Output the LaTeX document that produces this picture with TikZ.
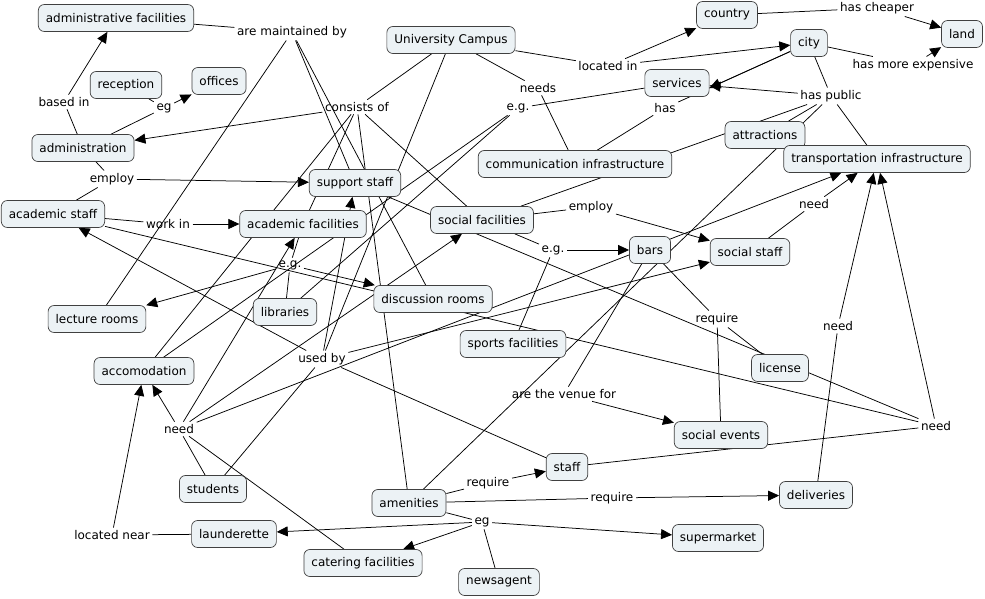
\documentclass[tikz,border=0pt]{standalone}
\usepackage{fontspec}
\setmainfont{DejaVu Sans}
\usetikzlibrary{arrows.meta,backgrounds,calc}
\definecolor{conceptfill}{RGB}{236,242,245}
\begin{document}
\begin{tikzpicture}[x=1pt,y=-1pt,>={Triangle[length=11pt,width=10pt]},
    every node/.style={font=\fontsize{12}{14}\selectfont}]
  \useasboundingbox (0,0) rectangle (985,599);

      % concepts
      \begin{scope}[every node/.style={draw=black!75,line width=.7pt,rounded corners=6pt,
          fill=conceptfill,inner xsep=7.5pt,inner ysep=0pt,minimum height=27pt,
          font=\fontsize{12}{14}\selectfont}]
        \node (adminfac)       at (116,18)  {administrative facilities};
        \node (reception)      at (126,85)  {reception};
        \node (offices)        at (219,81)  {offices};
        \node (administration) at (83,148)  {administration};
        \node (acadstaff)      at (53,214)  {academic staff};
        \node (campus)         at (451,40)  {University Campus};
        \node (supstaff)       at (355,183) {support staff};
        \node (acadfac)        at (303,224) {academic facilities};
        \node (socfac)         at (482,220) {social facilities};
        \node (discrooms)      at (433,299) {discussion rooms};
        \node (libraries)      at (285,312) {libraries};
        \node (lecture)        at (97,319)  {lecture rooms};
        \node (accom)          at (144,371) {accomodation};
        \node (students)       at (213,489) {students};
        \node (amenities)      at (409,503) {amenities};
        \node (launderette)    at (234,534) {launderette};
        \node (catering)       at (363,563) {catering facilities};
        \node (newsagent)      at (499,582) {newsagent};
        \node (supermarket)    at (718,538) {supermarket};
        \node (deliveries)     at (816,495) {deliveries};
        \node (staff)          at (567,467) {staff};
        \node (socevents)      at (721,435) {social events};
        \node (license)        at (780,368) {license};
        \node (sports)         at (513,344) {sports facilities};
        \node (bars)           at (650,250) {bars};
        \node (socstaff)       at (750,252) {social staff};
        \node (comminfra)      at (575,164) {communication infrastructure};
        \node (attractions)    at (765,135) {attractions};
        \node (transinfra)     at (877,159) {transportation infrastructure};
        \node (services)       at (677,83)  {services};
        \node (country)        at (727,15)  {country};
        \node (city)           at (809,43)  {city};
        \node (land)           at (962,34)  {land};
      \end{scope}

      % linking phrases
      \begin{scope}[every node/.style={inner sep=2.5pt,font=\fontsize{12}{14}\selectfont}]
        \node (maintained) at (292,32)  {are maintained by};
        \node (basedin)    at (64,102)  {based in};
        \node (eg1)        at (164,108) {eg};
        \node (consists)   at (357,107) {consists of};
        \node (employa)    at (112,179) {employ};
        \node (workin)     at (168,224) {work in};
        \node (eg2)        at (290,265) {e.g.};
        \node (usedby)     at (322,359) {used by};
        \node (needa)      at (179,429) {need};
        \node (locnear)    at (112,535) {located near};
        \node (locin)      at (608,66)  {located in};
        \node (needs)      at (538,88)  {needs};
        \node (eg3)        at (518,108) {e.g.};
        \node (has)        at (665,108) {has};
        \node (haspub)     at (831,96)  {has public};
        \node (cheaper)    at (877,8)   {has cheaper};
        \node (expensive)  at (913,65)  {has more expensive};
        \node (employb)    at (591,207) {employ};
        \node (eg4)        at (553,250) {e.g.};
        \node (needb)      at (814,204) {need};
        \node (needc)      at (838,326) {need};
        \node (requirea)   at (717,319) {require};
        \node (venue)      at (564,394) {are the venue for};
        \node (needd)      at (936,426) {need};
        \node (requireb)   at (488,483) {require};
        \node (requirec)   at (612,498) {require};
        \node (eg5)        at (482,522) {eg};
      \end{scope}

      % connectors, behind the boxes
      \begin{scope}[on background layer,every edge/.style={draw=black,line width=.75pt}]
        \path (adminfac)       edge (maintained);
        \path (lecture)        edge (maintained);
        \path (discrooms)      edge (maintained);
        \path (maintained)     edge (supstaff);
        \path (administration) edge (basedin);
        \path (basedin)        edge[->] (adminfac);
        \path (reception)      edge (eg1);
        \path (administration) edge (eg1);
        \path (eg1)            edge[->] (offices);
        \path (campus)         edge (consists);
        \path (consists)       edge[->] (administration);
        \path (consists)       edge (acadfac);
        \path (consists)       edge (accom);
        \path (consists)       edge (amenities);
        \path (consists)       edge (socfac);
        \path (administration) edge (employa);
        \path (employa)        edge[->] (supstaff);
        \path (employa)        edge (acadstaff);
        \path (acadstaff)      edge (workin);
        \path (workin)         edge[->] (acadfac);
        \path (acadfac)        edge (eg2);
        \path (eg2)            edge[->] (lecture);
        \path (eg2)            edge (libraries);
        \path (eg2)            edge[->] (discrooms);
        \path (campus)         edge (usedby);
        \path (usedby)         edge[->] (acadstaff);
        \path (usedby)         edge[->] (supstaff);
        \path (usedby)         edge[->] (socstaff);
        \path (usedby)         edge (students);
        \path (usedby)         edge (staff);
        \path (students)       edge (needa);
        \path (needa)          edge[->] (accom);
        \path (needa)          edge[->] (acadfac);
        \path (needa)          edge[->] (socfac);
        \path (needa)          edge[->] (transinfra);
        \path (needa)          edge (catering);
        \path (launderette)    edge (locnear);
        \path (locnear)        edge[->] (accom);
        \path (campus)         edge (locin);
        \path (locin)          edge[->] (country);
        \path (locin)          edge[->] (city);
        \path (campus)         edge (needs);
        \path (needs)          edge (comminfra);
        \path (services)       edge (eg3);
        \path (eg3)            edge (accom);
        \path (eg3)            edge (libraries);
        \path (has)            edge (city);
        \path (city)           edge[->] ($(services.east)+(0,5)$);
        \path (has)            edge (comminfra);
        \path (country)        edge (cheaper);
        \path (cheaper)        edge[->] (land);
        \path (city)           edge (expensive);
        \path (expensive)      edge[->] (land);
        \path (city)           edge (haspub);
        \path (haspub)         edge[->] (services);
        \path (haspub)         edge (attractions);
        \path (haspub)         edge (transinfra);
        \path (haspub)         edge (socfac);
        \path (haspub)         edge (amenities);
        \path (socfac)         edge (employb);
        \path (employb)        edge[->] (socstaff);
        \path (socfac)         edge (eg4);
        \path (eg4)            edge[->] (bars);
        \path (eg4)            edge (sports);
        \path (socstaff)       edge (needb);
        \path (needb)          edge[->] (transinfra);
        \path (deliveries)     edge (needc);
        \path (needc)          edge[->] (transinfra);
        \path (bars)           edge (requirea);
        \path (requirea)       edge (license);
        \path (requirea)       edge (socevents);
        \path (bars)           edge (venue);
        \path (venue)          edge[->] (socevents);
        \path (acadstaff)      edge (needd);
        \path (supstaff)       edge (needd);
        \path (staff)          edge (needd);
        \path (needd)          edge[->] (transinfra);
        \path (amenities)      edge (requireb);
        \path (requireb)       edge[->] (staff);
        \path (amenities)      edge (requirec);
        \path (requirec)       edge[->] (deliveries);
        \path (amenities)      edge (eg5);
        \path (eg5)            edge[->] (launderette);
        \path (eg5)            edge[->] (catering);
        \path (eg5)            edge[->] (supermarket);
        \path (eg5)            edge (newsagent);
      \end{scope}

    \end{tikzpicture}
\end{document}
